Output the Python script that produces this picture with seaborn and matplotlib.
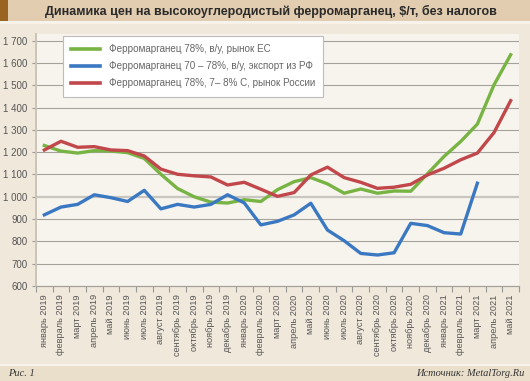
import matplotlib
matplotlib.use("Agg")
import matplotlib.pyplot as plt
import matplotlib.patches as patches
import seaborn as sns
import numpy as np
import pandas as pd

months = ["январь 2019", "февраль 2019", "март 2019", "апрель 2019", "май 2019",
          "июнь 2019", "июль 2019", "август 2019", "сентябрь 2019", "октябрь 2019",
          "ноябрь 2019", "декабрь 2019", "январь 2020", "февраль 2020", "март 2020",
          "апрель 2020", "май 2020", "июнь 2020", "июль 2020", "август 2020",
          "сентябрь 2020", "октябрь 2020", "ноябрь 2020", "декабрь 2020", "январь 2021",
          "февраль 2021", "март 2021", "апрель 2021", "май 2021"]

eu = [1230, 1205, 1196, 1207, 1205, 1198, 1172, 1101, 1037, 1000,
      976, 972, 987, 979, 1032, 1068, 1086, 1058, 1016, 1035,
      1016, 1026, 1025, 1103, 1181, 1248, 1326, 1502, 1637]
export_rf = [919, 954, 966, 1009, 996, 979, 1029, 946, 966, 954,
             966, 1009, 973, 874, 890, 919, 971, 851, 803, 746,
             739, 749, 881, 871, 839, 833, 1061, np.nan, np.nan]
russia = [1210, 1249, 1222, 1225, 1210, 1207, 1183, 1124, 1101, 1094,
          1089, 1053, 1065, 1034, 1002, 1019, 1098, 1133, 1086, 1065,
          1038, 1043, 1056, 1098, 1128, 1166, 1196, 1288, 1431]

labels = ["Ферромарганец 78%, в/у, рынок ЕС",
          "Ферромарганец 70 – 78%, в/у, экспорт из РФ",
          "Ферромарганец 78%, 7– 8% С, рынок России"]
colors = ["#78b444", "#3b78c2", "#c1474b"]

df = pd.DataFrame({
    "x": list(range(len(months))) * 3,
    "value": eu + export_rf + russia,
    "series": [labels[0]] * len(months) + [labels[1]] * len(months) + [labels[2]] * len(months),
})

plt.rcParams["font.family"] = ["Liberation Sans", "DejaVu Sans"]

W, H = 530, 381
fig = plt.figure(figsize=(W / 100, H / 100), dpi=100)
fig.patch.set_facecolor("#f0e8db")

# title band, stripe and bottom band
fig.add_artist(patches.Rectangle((0, 1 - 21 / H), 1, 21 / H, transform=fig.transFigure,
                                 facecolor="#e2cdb0", edgecolor="none", zorder=0))
fig.add_artist(patches.Rectangle((0, 1 - 21 / H), 8 / W, 21 / H, transform=fig.transFigure,
                                 facecolor="#9b6322", edgecolor="none", zorder=0))
fig.add_artist(patches.Rectangle((0, 1 - 24 / H), 1, 3 / H, transform=fig.transFigure,
                                 facecolor="#f8f3ea", edgecolor="none", zorder=0))
fig.add_artist(patches.Rectangle((0, 0), 1, 15 / H, transform=fig.transFigure,
                                 facecolor="#eadfcb", edgecolor="none", zorder=0))
fig.add_artist(patches.Rectangle((0, 15 / H), 1, 2 / H, transform=fig.transFigure,
                                 facecolor="#f8f3ea", edgecolor="none", zorder=0))

ax = fig.add_axes([36 / W, 1 - 286 / H, (519 - 36) / W, (286 - 34) / H])
ax.set_facecolor("#f7f4ee")

sns.lineplot(data=df, x="x", y="value", hue="series", palette=colors,
             hue_order=labels, linewidth=2.4, ax=ax, legend=True, zorder=3)

ax.set_xlim(-0.5, len(months) - 0.5)
ax.set_ylim(600, 1730)
yt = np.arange(600, 1701, 100)
ax.set_yticks(yt)
ax.set_yticklabels([f"{v:,}".replace(",", " ") for v in yt])
for v in yt:
    if v == 1000:
        ax.axhline(v, color="#c9c6c0", lw=1.6, zorder=1)
    elif v > 600:
        ax.axhline(v, color="#a5a29c", lw=0.8, zorder=1)

ax.set_xticks(np.arange(-0.5, len(months), 1))
ax.set_xticklabels([])
ax.set_xticks(np.arange(len(months)), minor=True)
ax.set_xticklabels(months, minor=True, rotation=90, fontsize=6.6, color="#555555")
ax.tick_params(axis="x", which="major", length=4, color="#999999", width=0.8)
ax.tick_params(axis="x", which="minor", length=0, pad=6)
ax.tick_params(axis="y", length=3, color="#999999", width=0.8, labelsize=7,
               labelcolor="#555555", pad=3)

ax.set_xlabel("")
ax.set_ylabel("")
for s in ["top", "right"]:
    ax.spines[s].set_visible(False)
ax.spines["left"].set_color("#cbc4b6")
ax.spines["left"].set_linewidth(1.4)
ax.spines["bottom"].set_color("#a5a29c")
ax.spines["bottom"].set_linewidth(0.9)

leg = ax.legend(loc="upper left", bbox_to_anchor=(63 / W, 1 - 36 / H),
                bbox_transform=fig.transFigure, borderaxespad=0, fontsize=7.1,
                frameon=True, fancybox=False, handlelength=2.9, handletextpad=0.9,
                labelspacing=0.7, borderpad=0.85)
leg.get_frame().set_edgecolor("#bdbdbd")
leg.get_frame().set_linewidth(0.8)
leg.get_frame().set_facecolor("white")
leg.get_frame().set_alpha(1)
for t in leg.get_texts():
    t.set_color("#666666")
for l in leg.get_lines():
    l.set_linewidth(2.6)

fig.text(0.512, 1 - 11 / H, "Динамика цен на высокоуглеродистый ферромарганец, $/т, без налогов",
         ha="center", va="center", fontsize=9, fontweight="bold", color="#2a2a2a")
fig.text(8 / W, 7.5 / H, "Рис. 1", ha="left", va="center", fontsize=7.5,
         style="italic", family="Liberation Serif", color="#333333")
fig.text(524 / W, 7.5 / H, "Источник: MetalTorg.Ru", ha="right", va="center",
         fontsize=7.5, style="italic", family="Liberation Serif", color="#333333")

fig.savefig("out.png", dpi=100, facecolor=fig.get_facecolor())
